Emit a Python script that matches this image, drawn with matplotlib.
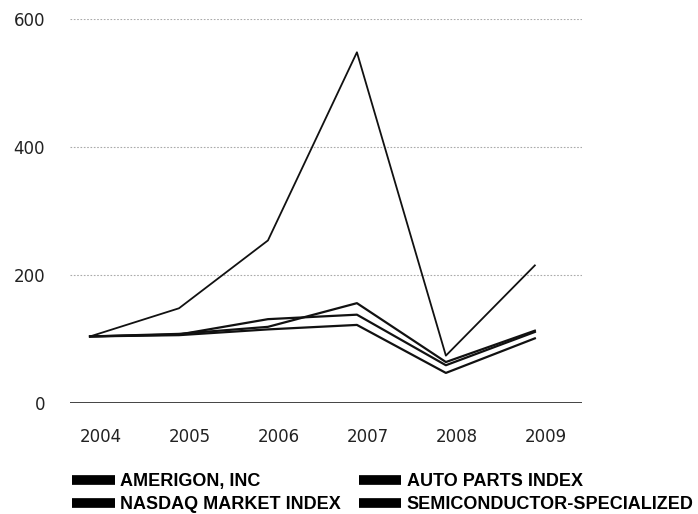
import matplotlib
matplotlib.use('Agg')
import matplotlib.pyplot as plt
import matplotlib.transforms as mtransforms
from matplotlib.lines import Line2D

# Cumulative total return, indexed values per year
years = [2004, 2005, 2006, 2007, 2008, 2009]
amerigon = [104, 148, 254, 548, 74, 215]
auto_parts = [104, 106, 115, 122, 47, 101]
nasdaq = [104, 107, 131, 138, 59, 111]
semiconductor = [104, 108, 119, 156, 64, 113]

series_names = ['AMERIGON, INC', 'AUTO PARTS INDEX',
                'NASDAQ MARKET INDEX', 'SEMICONDUCTOR-SPECIALIZED']
y_ticks = [0, 200, 400, 600]

fig = plt.figure(figsize=(6.98, 5.14), dpi=100)
ax = fig.add_axes([70 / 698, 1 - 403 / 514, 512 / 698, 384 / 514])

ax.plot(years, amerigon, color='#111111', lw=1.3)
ax.plot(years, auto_parts, color='#111111', lw=1.6)
ax.plot(years, nasdaq, color='#111111', lw=1.6)
ax.plot(years, semiconductor, color='#111111', lw=1.6)

ax.set_xlim(2004 - 0.225, 2009 + 0.53)
ax.set_ylim(0, 600)

# dotted gridlines, solid baseline
for v in y_ticks[1:]:
    ax.axhline(v, color='#aaaaaa', lw=0.8, ls=(0, (1.5, 1.5)), zorder=0)
ax.axhline(0, color='#222222', lw=1.2, zorder=1)

for s in ax.spines.values():
    s.set_visible(False)

ax.set_yticks(y_ticks)
ax.set_xticks(years)
ax.tick_params(length=0, labelsize=12, labelcolor='#222222')
ax.tick_params(axis='y', pad=18)
ax.tick_params(axis='x', pad=18)
for lbl in ax.get_xticklabels():
    lbl.set_transform(lbl.get_transform() + mtransforms.ScaledTranslation(0.11, 0, fig.dpi_scale_trans))

handles = [Line2D([0], [0], color='black', lw=7, solid_capstyle='butt') for _ in series_names]
order = [0, 2, 1, 3]
leg = fig.legend([handles[i] for i in order], [series_names[i] for i in order],
                 ncol=2, frameon=False, loc='lower left',
                 bbox_to_anchor=(56 / 698, -0.03), handlelength=2.35,
                 handletextpad=0.3, columnspacing=1.0, labelspacing=0.35,
                 prop={'family': 'Liberation Sans', 'weight': 'bold', 'size': 13})

fig.savefig('out.png', dpi=100)
